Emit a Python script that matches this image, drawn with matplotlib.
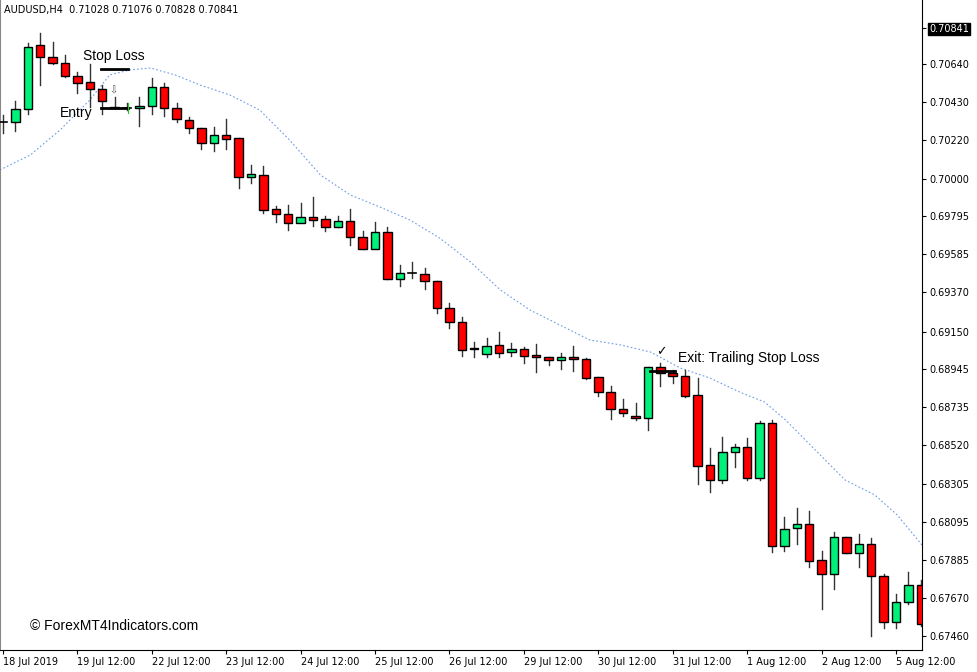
import matplotlib
matplotlib.use("Agg")
import matplotlib.pyplot as plt
from matplotlib.patches import Rectangle

opens = [.70318,.70318,.70390,.70746,.70679,.70646,.70573,.70540,.70501,.70401,.70396,.70396,.70407,.70512,.70396,.70329,.70284,.70201,.70245,.70229,
         .70012,.70023,.69834,.69806,.69756,.69789,.69778,.69734,.69767,.69678,.69612,.69706,.69445,.69478,.69473,.69434,.69284,.69206,.69056,.69028,
         .69078,.69039,.69056,.69022,.69011,.68994,.69011,.69000,.68900,.68816,.68722,.68683,.68672,.68955,.68922,.68905,.68800,.68411,.68327,.68483,
         .68511,.68338,.68644,.67960,.68060,.68083,.67882,.67805,.68010,.67921,.67971,.67793,.67538,.67649,.67743]
highs = [.70357,.70434,.70757,.70813,.70762,.70690,.70596,.70640,.70523,.70457,.70423,.70457,.70562,.70535,.70423,.70345,.70284,.70290,.70334,.70229,
         .70079,.70073,.69851,.69856,.69867,.69901,.69795,.69795,.69834,.69712,.69762,.69734,.69523,.69539,.69506,.69434,.69311,.69233,.69094,.69117,
         .69150,.69089,.69067,.69083,.69011,.69033,.69072,.69006,.68900,.68850,.68778,.68755,.68955,.68978,.68939,.68939,.68894,.68505,.68566,.68527,
         .68561,.68655,.68661,.68121,.68172,.68155,.67932,.68038,.68010,.68027,.68005,.67805,.67693,.67816,.67771]
lows = [.70257,.70268,.70362,.70523,.70640,.70568,.70479,.70401,.70362,.70396,.70384,.70295,.70362,.70351,.70318,.70257,.70168,.70156,.70168,.69951,
        .69979,.69812,.69762,.69717,.69789,.69739,.69712,.69734,.69634,.69612,.69623,.69445,.69406,.69450,.69389,.69256,.69172,.69017,.69011,.69011,
        .69011,.69017,.68978,.68928,.68967,.68944,.68933,.68889,.68794,.68666,.68683,.68661,.68605,.68850,.68867,.68789,.68305,.68260,.68311,.68399,
        .68327,.68327,.67927,.67932,.67971,.67843,.67610,.67721,.67921,.67843,.67460,.67504,.67504,.67638,.67515]
closes = [.70322,.70390,.70735,.70679,.70646,.70573,.70535,.70501,.70434,.70396,.70398,.70407,.70512,.70396,.70334,.70284,.70201,.70245,.70223,.70012,
          .70029,.69828,.69806,.69756,.69789,.69773,.69734,.69767,.69678,.69612,.69706,.69445,.69478,.69476,.69434,.69284,.69206,.69050,.69061,.69072,
          .69033,.69056,.69017,.69011,.68994,.69011,.69000,.68894,.68816,.68722,.68700,.68672,.68955,.68922,.68905,.68794,.68405,.68327,.68483,.68511,
          .68338,.68644,.67960,.68055,.68083,.67877,.67805,.68010,.67921,.67971,.67793,.67538,.67649,.67743,.67527]

ma_idx = [-0.25,2.2,4.6,7.0,8.6,10.2,11.9,13.9,15.9,18.3,20.7,23.1,25.6,28.0,30.4,32.8,35.2,37.7,40.1,42.5,44.9,47.3,49.8,
          52.2,54.6,57.0,59.4,61.4,63.1,65.5,67.9,70.3,72.1,74.1]
ma_vals = [.70051,.70134,.70273,.70440,.70579,.70607,.70618,.70579,.70523,.70468,.70384,.70218,.70023,.69912,.69845,.69773,.69673,
           .69539,.69384,.69272,.69189,.69106,.69078,.69039,.68950,.68894,.68816,.68761,.68661,.68494,.68327,.68244,.68133,.67966]

price_ticks = [.70841,.70640,.70430,.70220,.70000,.69795,.69585,.69370,.69150,.68945,.68735,.68520,.68305,.68095,.67885,.67670,.67460]
date_pos = [0,6,12,18,24,30,36,42,48,54,60,66,72]
date_labels = ["18 Jul 2019","19 Jul 12:00","22 Jul 12:00","23 Jul 12:00","24 Jul 12:00","25 Jul 12:00","26 Jul 12:00",
               "29 Jul 12:00","30 Jul 12:00","31 Jul 12:00","1 Aug 12:00","2 Aug 12:00","5 Aug 12:00"]

SANS = ["Liberation Sans", "DejaVu Sans"]
W, H = 977, 672
fig = plt.figure(figsize=(W/100, H/100), dpi=100)
ax = fig.add_axes([0, 1-650/H, 922/W, 650/H])
ax.set_xlim(-0.24, 74.1)
ax.set_ylim(0.67382, 0.70996)

green = "#00f07a"; red = "#ff0000"
bw = 0.68
for i, (o, h, l, c) in enumerate(zip(opens, highs, lows, closes)):
    ax.plot([i, i], [l, h], color="#333333", lw=1.0, zorder=2)
    col = green if c >= o else red
    b0, b1 = min(o, c), max(o, c)
    if b1 - b0 < 0.00004:
        ax.plot([i-bw/2, i+bw/2], [o, o], color="black", lw=1.2, zorder=3)
    else:
        ax.add_patch(Rectangle((i-bw/2, b0), bw, b1-b0, facecolor=col, edgecolor="black", lw=1.0, zorder=3))

ax.plot(ma_idx, ma_vals, color="#6f9be8", lw=0.8, ls=(0, (1.5, 2)), zorder=1)

ax.plot([7.9, 10.1], [0.70612, 0.70612], color="black", lw=2, zorder=4)
ax.plot([7.9, 10.1], [0.70396, 0.70396], color="black", lw=2, zorder=4)
ax.plot([10.1, 10.1], [0.70368, 0.70424], color="#22cc22", lw=0.8, zorder=4)
ax.text(8.9, 0.70496, "⇩", fontsize=7, ha="center", va="center", color="#555555", zorder=5)
ax.text(6.45, 0.70684, "Stop Loss", fontsize=10, ha="left", va="center", family=SANS)
ax.text(4.6, 0.70367, "Entry", fontsize=10, ha="left", va="center", family=SANS)
ax.plot([52.2, 54.2], [0.68933, 0.68933], color="black", lw=2, zorder=4)
ax.text(53.1, 0.69039, "✓", fontsize=9, ha="center", va="center")
ax.text(54.4, 0.69006, "Exit: Trailing Stop Loss", fontsize=10, ha="left", va="center", family=SANS)

ax.set_xticks(date_pos)
ax.set_xticklabels(date_labels, fontsize=7, ha="left")
ax.set_yticks(price_ticks)
ax.set_yticklabels([f"{p:.5f}" for p in price_ticks], fontsize=7)
ax.yaxis.tick_right()
ax.tick_params(axis="both", length=3, width=0.8, color="black", pad=2)
for lab in ax.get_yticklabels():
    if lab.get_text() == "0.70841":
        lab.set_color("white")
        lab.set_bbox(dict(facecolor="black", edgecolor="black", pad=1))
ax.spines["top"].set_visible(False)
ax.spines["left"].set_color("#888888")

fig.text(4/W, 1-10/H, "AUDUSD,H4  0.71028 0.71076 0.70828 0.70841", fontsize=7, va="center")
fig.text(30/W, 1-626/H, "© ForexMT4Indicators.com", fontsize=10, va="center", family=SANS)
fig.savefig("out.png", dpi=100, facecolor="white")
